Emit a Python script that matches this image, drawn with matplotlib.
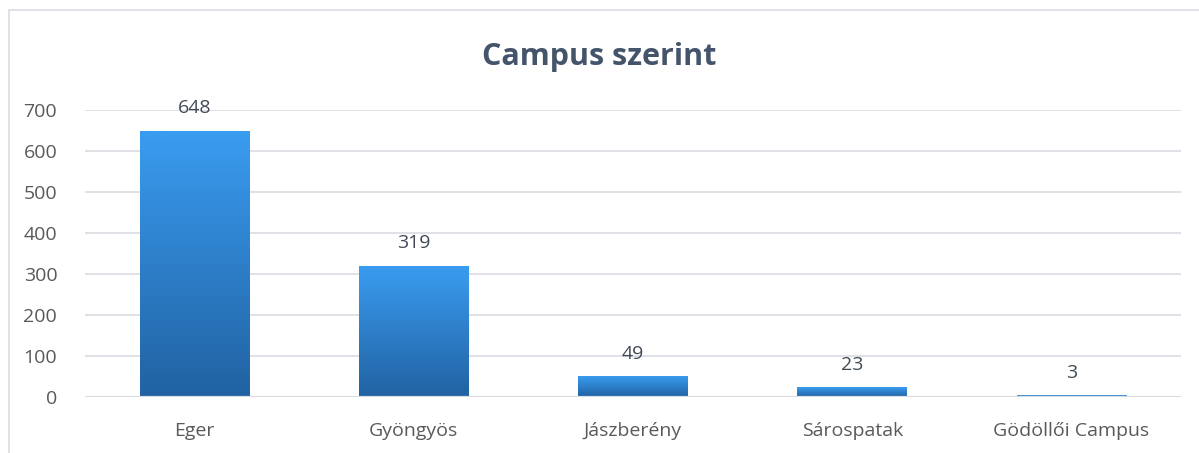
import matplotlib
matplotlib.use("Agg")
import matplotlib.pyplot as plt
import numpy as np
from matplotlib.colors import LinearSegmentedColormap
from matplotlib.patches import Rectangle

categories = ["Eger", "Gyöngyös", "Jászberény", "Sárospatak", "Gödöllői Campus"]
values = [648, 319, 49, 23, 3]
yticks = [0, 100, 200, 300, 400, 500, 600, 700]
title = "Campus szerint"

plt.rcParams['font.family'] = ['Open Sans', 'DejaVu Sans']

W, H = 1199, 453
fig = plt.figure(figsize=(W / 100, H / 100), dpi=100)
fig.patch.set_facecolor("white")

# outer chart frame
frame = Rectangle((9 / W, -0.05), 1.2, (H - 10) / H + 0.05, transform=fig.transFigure,
                  fill=False, edgecolor="#D9DEE5", lw=1.2)
fig.add_artist(frame)

ax = fig.add_axes([85 / W, 1 - 397 / H, (1181 - 85) / W, (397 - 110) / H])

cmap = LinearSegmentedColormap.from_list("g", ["#2162A2", "#3A9CF0"])
grad = np.linspace(0, 1, 256).reshape(-1, 1)
bars = ax.bar(range(len(categories)), values, width=0.5, color="none", edgecolor="none", zorder=3)
for b in bars:
    x0, w, h = b.get_x(), b.get_width(), b.get_height()
    if h <= 0:
        continue
    ax.imshow(grad, cmap=cmap, origin="lower", aspect="auto",
              extent=(x0, x0 + w, 0, h), zorder=3, interpolation="bilinear")
ax.set_xlim(-0.5, len(categories) - 0.5)
ax.set_ylim(0, 700)
# baseline drawn over the bars (hides very small bars, as in the reference)
ax.axhline(0, color="#D9DCE3", lw=1.6, zorder=4)

for i, v in enumerate(values):
    ax.annotate(str(v), (i, v), xytext=(0, 10), textcoords="offset points",
                ha="center", va="bottom", fontsize=14, color="#404A57")

ax.set_yticks(yticks)
ax.set_yticklabels([str(t) for t in yticks])
ax.set_xticks(range(len(categories)))
ax.set_xticklabels(categories)
ax.tick_params(axis="both", length=0, labelsize=14, labelcolor="#595959")
ax.tick_params(axis="y", pad=20)
ax.tick_params(axis="x", pad=18)
ax.grid(axis="y", color="#D9DCE3", lw=1.2, zorder=0)
ax.set_axisbelow(True)
for s in ax.spines.values():
    s.set_visible(False)

fig.text(0.5, 1 - 57 / H, title, ha="center", va="center", fontsize=22,
         fontweight="bold", color="#44546A")

fig.savefig("out.png", dpi=100)
